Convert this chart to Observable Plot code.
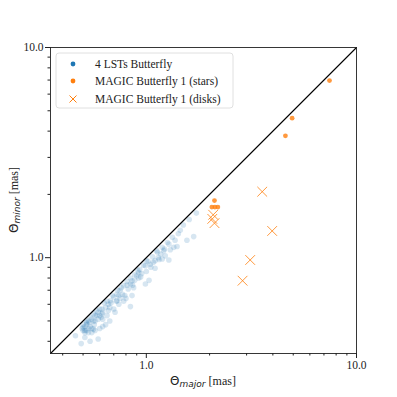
<!DOCTYPE html>
<html><head><meta charset="utf-8">
<script src="https://cdn.jsdelivr.net/npm/d3@7"></script>
<script src="https://cdn.jsdelivr.net/npm/@observablehq/plot@0.6"></script>
<style>body{margin:0;background:#fff}</style>
</head><body><div id="chart"></div>
<script>
const lstX = [1.60,1.73,1.50,1.68,1.56,1.37,1.35,1.40,1.28,1.21,1.17,1.14,1.28,1.10,1.045,1.10,0.99,0.92,0.90,0.94,1.03,0.99,0.855,0.84,0.78,0.75,0.725,0.79,0.70,0.674,0.66,0.74,0.84,0.64,0.615,0.71,0.59,0.65,0.57,0.67,0.55,0.53,0.52,0.50,0.51,0.56,0.59,0.54,0.51,0.49,0.46,0.615,0.70,0.725,0.855,0.87,0.91,1.12,1.23,1.19,1.0,
0.52,0.54,0.56,0.58,0.60,0.63,0.65,0.69,0.73,0.76,0.81,0.84,0.88,0.93,0.97,1.02,1.07,1.13,1.19,1.26,1.33,1.45,
0.50,0.51,0.52,0.52,0.53,0.535,0.54,0.55,0.56,0.565,0.57,0.58,0.59,0.60,0.61,0.62,0.50,0.51,0.53,0.55,0.57,0.60,0.62,0.64,0.495,
0.62,0.66,0.68,0.72,0.75,0.77,0.80,0.82,0.86,0.88,0.92,0.95,1.00,1.05,1.08,1.15,1.22,1.30,1.42,0.67,0.74,0.78,0.81];
const lstY = [1.52,1.63,1.43,1.26,1.21,1.21,1.12,1.13,1.16,1.08,1.04,1.00,0.975,0.968,0.93,0.89,0.916,0.85,0.82,0.81,0.78,0.75,0.777,0.75,0.736,0.70,0.67,0.66,0.65,0.624,0.60,0.60,0.585,0.58,0.57,0.55,0.55,0.53,0.53,0.50,0.51,0.50,0.48,0.466,0.44,0.457,0.41,0.40,0.417,0.39,0.425,0.54,0.57,0.624,0.66,0.72,0.87,1.08,1.02,0.985,0.968,
0.50,0.52,0.54,0.56,0.57,0.61,0.62,0.66,0.70,0.72,0.77,0.80,0.83,0.88,0.92,0.96,1.01,1.06,1.12,1.18,1.25,1.35,
0.48,0.47,0.45,0.49,0.46,0.49,0.47,0.46,0.50,0.48,0.50,0.53,0.51,0.53,0.52,0.55,0.45,0.45,0.44,0.44,0.45,0.46,0.47,0.48,0.46,
0.51,0.56,0.61,0.62,0.64,0.67,0.64,0.71,0.74,0.78,0.80,0.84,0.86,0.90,0.95,0.98,1.10,1.09,1.30,0.58,0.66,0.62,0.74];
const starsX = [7.44,4.94,4.59,2.11,2.05,2.12,2.19];
const starsY = [6.96,4.61,3.80,1.87,1.74,1.74,1.74];
const disksX = [3.56,2.08,2.06,2.11,3.97,3.12,2.87];
const disksY = [2.06,1.60,1.53,1.46,1.34,0.975,0.777];
const diagonal = [0.35,10];
const majorTicks = [1,10];
const minorTicks = [0.4,0.5,0.6,0.7,0.8,0.9,2,3,4,5,6,7,8,9];
const legendLabels = ["4 LSTs Butterfly","MAGIC Butterfly 1 (stars)","MAGIC Butterfly 1 (disks)"];

const lst = lstX.map((x,i)=>({x, y:lstY[i]}));
const stars = starsX.map((x,i)=>({x, y:starsY[i]}));
const disks = disksX.map((x,i)=>({x, y:disksY[i]}));
const diag = diagonal.map(v=>({x:v,y:v}));
const blue = "#1f77b4", orange = "#ff7f0e";
const serif = "Liberation Serif";

const chart = Plot.plot({
  width:397, height:397,
  marginLeft:50, marginRight:41, marginTop:47, marginBottom:44,
  x:{type:"log", domain:[0.35,10], label:null},
  y:{type:"log", domain:[0.35,10], label:null},
  style:{fontFamily:serif, fontSize:"11px", background:"white", color:"#222"},
  marks:[
    Plot.axisX({ticks:majorTicks, tickFormat:d3.format(".1f"), tickSize:5, tickPadding:2, fontSize:11.5, fontFamily:serif, label:null}),
    Plot.axisX({ticks:minorTicks, tickFormat:()=>"", tickSize:2.5, label:null}),
    Plot.axisY({ticks:majorTicks, tickFormat:d3.format(".1f"), tickSize:5, tickPadding:2, fontSize:11.5, fontFamily:serif, label:null}),
    Plot.axisY({ticks:minorTicks, tickFormat:()=>"", tickSize:2.5, label:null}),
    Plot.dot(lst, {x:"x", y:"y", r:2.8, fill:blue, fillOpacity:0.18}),
    Plot.line(diag, {x:"x", y:"y", stroke:"black", strokeWidth:1.1}),
    Plot.dot(stars, {x:"x", y:"y", r:2.4, fill:orange, fillOpacity:0.8}),
    Plot.dot(disks, {x:"x", y:"y", r:4.5, symbol:"times", stroke:orange, strokeWidth:1, strokeOpacity:0.8}),
    Plot.frame({stroke:"#222", strokeWidth:0.9})
  ]
});
document.getElementById("chart").appendChild(chart);

const svg = d3.select(chart);
// axis labels
const xl = svg.append("text").attr("x",203).attr("y",385).attr("text-anchor","middle").attr("fill","#222").style("font-size","12px");
xl.append("tspan").attr("font-family","DejaVu Sans").text("Θ");
xl.append("tspan").attr("font-family","DejaVu Sans").attr("font-style","italic").attr("font-size","9px").attr("dy",2).text("major");
xl.append("tspan").attr("font-family",serif).attr("dy",-2).text(" [mas]");
const yl = svg.append("text").attr("transform","translate(18,200) rotate(-90)").attr("text-anchor","middle").attr("fill","#222").style("font-size","12px");
yl.append("tspan").attr("font-family","DejaVu Sans").text("Θ");
yl.append("tspan").attr("font-family","DejaVu Sans").attr("font-style","italic").attr("font-size","9px").attr("dy",2).text("minor");
yl.append("tspan").attr("font-family",serif).attr("dy",-2).text(" [mas]");

// legend
const lg = svg.append("g");
lg.append("rect").attr("x",56).attr("y",53).attr("width",177).attr("height",55).attr("rx",3)
  .attr("fill","white").attr("fill-opacity",0.8).attr("stroke","#d8d8d8").attr("stroke-width",0.8);
const rows = [64,81,99];
lg.append("circle").attr("cx",73).attr("cy",rows[0]).attr("r",2.4).attr("fill",blue);
lg.append("circle").attr("cx",73).attr("cy",rows[1]).attr("r",2.4).attr("fill",orange);
lg.append("path").attr("d",`M69.5,${rows[2]-3.5}L76.5,${rows[2]+3.5}M69.5,${rows[2]+3.5}L76.5,${rows[2]-3.5}`).attr("stroke",orange).attr("stroke-width",1);
legendLabels.forEach((t,i)=>{
  lg.append("text").attr("x",95).attr("y",rows[i]).attr("dy","0.35em").attr("text-anchor","start")
    .attr("font-family",serif).attr("font-size","11.5px").attr("fill","#222").text(t);
});
</script></body></html>
